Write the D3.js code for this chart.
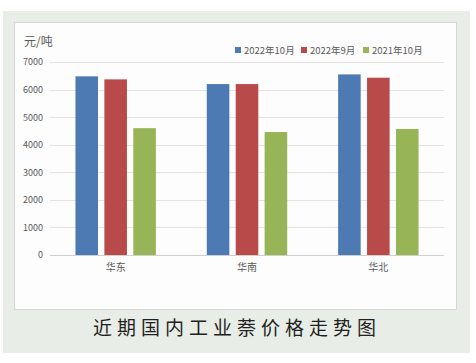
<!DOCTYPE html>
<html>
<head>
<meta charset="utf-8">
<script src="https://cdn.jsdelivr.net/npm/d3@7"></script>
<style>
  body { margin: 0; background: #fff; }
  svg text { font-family: "Noto Sans CJK SC", "DejaVu Sans", sans-serif; }
</style>
</head>
<body>
<div class="chart"></div>
<script>
var categories = ["华东", "华南", "华北"];
var seriesNames = ["2022年10月", "2022年9月", "2021年10月"];
var seriesColors = ["#4d7ab3", "#b84b49", "#97b456"];
var values = [
  [6480, 6370, 4600],
  [6200, 6200, 4460],
  [6550, 6430, 4570]
];
var yTicks = [0, 1000, 2000, 3000, 4000, 5000, 6000, 7000];

var svgWidth = 476, svgHeight = 363;
var margin = { top: 62, right: 32, bottom: 108, left: 50 };
var width = svgWidth - margin.left - margin.right;
var height = svgHeight - margin.top - margin.bottom;

var svg = d3.select(".chart")
  .append("svg")
  .attr("width", svgWidth)
  .attr("height", svgHeight);

// outer panel and white chart box
svg.append("rect")
  .attr("x", 3).attr("y", 11)
  .attr("width", 467).attr("height", 342)
  .attr("fill", "#e8ede8");
svg.append("rect")
  .attr("x", 14.5).attr("y", 22.5)
  .attr("width", 442).attr("height", 287)
  .attr("fill", "#fdfdfd")
  .attr("stroke", "#d6d6d6");

var chart = svg.append("g")
  .attr("transform", "translate(" + margin.left + "," + margin.top + ")");

var y = d3.scaleLinear().domain([0, 7000]).range([height, 0]);
var x0 = d3.scaleBand().domain(categories).range([0, width]).padding(0);
var x1 = d3.scaleBand().domain(seriesNames).range([0, x0.bandwidth()])
  .paddingInner(0.22).paddingOuter(0.88);

// gridlines
chart.selectAll(".grid")
  .data(yTicks)
  .enter().append("line")
  .attr("x1", 0).attr("x2", width)
  .attr("y1", function(d) { return Math.round(y(d)) + 0.5; })
  .attr("y2", function(d) { return Math.round(y(d)) + 0.5; })
  .attr("stroke", function(d) { return d === 0 ? "#cfcfcf" : "#e6e2df"; })
  .attr("stroke-width", 1);

// y tick labels
var leftAxis = d3.axisLeft(y).tickValues(yTicks).tickFormat(d3.format("d"))
  .tickSize(0).tickPadding(7);
var yAxisG = chart.append("g").call(leftAxis);
yAxisG.select(".domain").remove();
yAxisG.selectAll("text")
  .attr("font-size", 9)
  .attr("fill", "#595959");

// bars
var groups = chart.selectAll(".group")
  .data(values)
  .enter().append("g")
  .attr("transform", function(d, i) { return "translate(" + x0(categories[i]) + ",0)"; });

groups.selectAll("rect")
  .data(function(d) { return d.map(function(v, j) { return { name: seriesNames[j], value: v, color: seriesColors[j] }; }); })
  .enter().append("rect")
  .attr("x", function(d) { return x1(d.name); })
  .attr("width", x1.bandwidth())
  .attr("y", function(d) { return y(d.value); })
  .attr("height", function(d) { return height - y(d.value); })
  .attr("fill", function(d) { return d.color; });

// category labels
var bottomAxis = d3.axisBottom(x0).tickSize(0).tickPadding(9);
var xAxisG = chart.append("g")
  .attr("transform", "translate(0," + height + ")")
  .call(bottomAxis);
xAxisG.select(".domain").remove();
xAxisG.selectAll("text")
  .attr("font-size", 10)
  .attr("fill", "#595959");

// unit label
svg.append("text")
  .attr("x", 24).attr("y", 46)
  .attr("font-size", 12)
  .attr("fill", "#595959")
  .text("元/吨");

// legend
var legendX = [235, 301, 363];
var legend = svg.selectAll(".legend")
  .data(seriesNames)
  .enter().append("g")
  .attr("transform", function(d, i) { return "translate(" + legendX[i] + ",47)"; });
legend.append("rect")
  .attr("width", 6).attr("height", 6)
  .attr("fill", function(d, i) { return seriesColors[i]; });
legend.append("text")
  .attr("x", 9).attr("y", 6.5)
  .attr("font-size", 9.5)
  .attr("fill", "#595959")
  .text(function(d) { return d; });

// caption
svg.append("text")
  .attr("x", 237).attr("y", 335)
  .attr("text-anchor", "middle")
  .attr("font-size", 19)
  .attr("letter-spacing", 5)
  .attr("fill", "#231f20")
  .text("近期国内工业萘价格走势图");
</script>
</body>
</html>
